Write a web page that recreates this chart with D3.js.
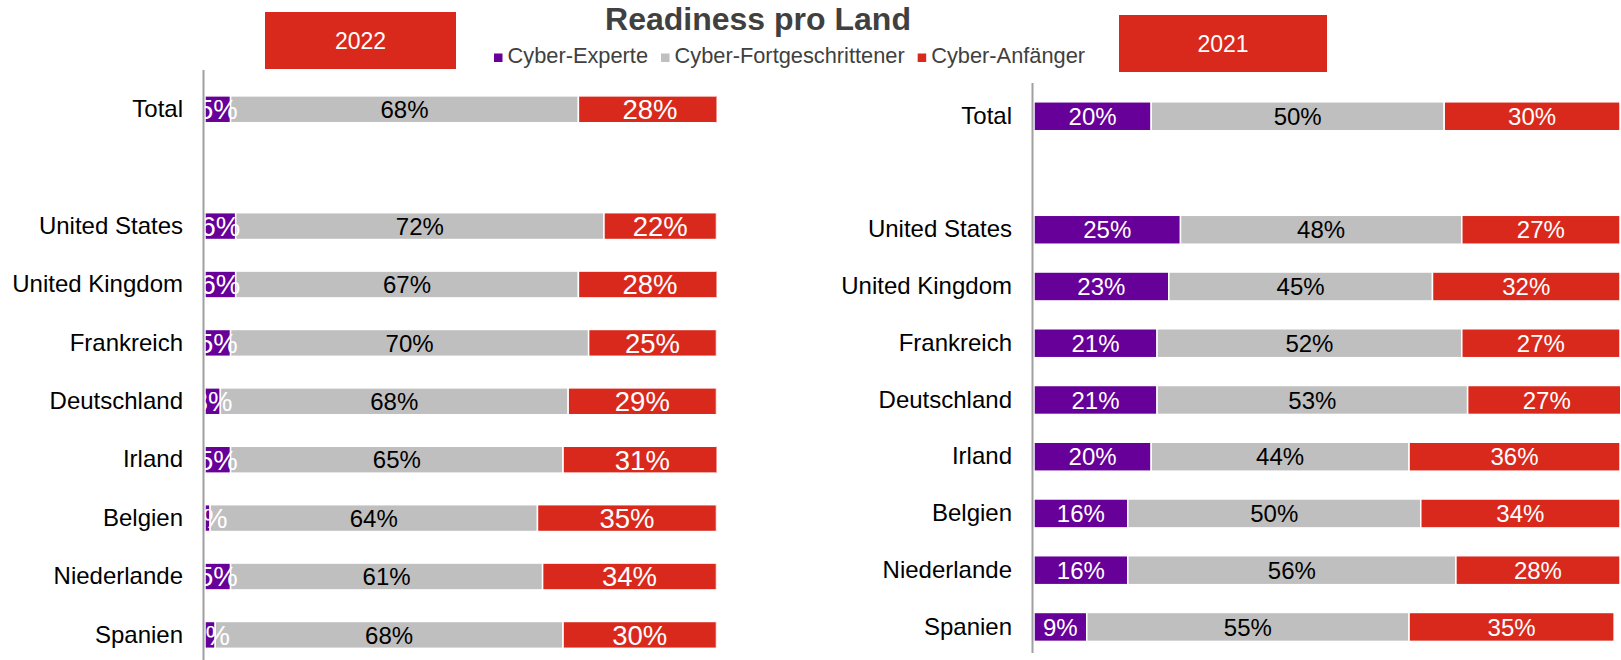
<!DOCTYPE html>
<html>
<head>
<meta charset="utf-8">
<script src="https://cdn.jsdelivr.net/npm/d3@7"></script>
<style>
    body { margin: 0; background: #fff; }
    svg { display: block; font-family: 'Liberation Sans', Arial, sans-serif; }
</style>
</head>
<body>
<div id="chart"></div>
<script>
'use strict';

// Data
const countries = ['Total', 'United States', 'United Kingdom', 'Frankreich', 'Deutschland',
    'Irland', 'Belgien', 'Niederlande', 'Spanien'];
const seriesNames = ['Cyber-Experte', 'Cyber-Fortgeschrittener', 'Cyber-Anfänger'];
const seriesColors = ['#660099', '#bfbfbf', '#d9291c'];

const expert2022 = [5, 6, 6, 5, 3, 5, 1, 5, 2];
const advanced2022 = [68, 72, 67, 70, 68, 65, 64, 61, 68];
const beginner2022 = [28, 22, 28, 25, 29, 31, 35, 34, 30];

const expert2021 = [20, 25, 23, 21, 21, 20, 16, 16, 9];
const advanced2021 = [50, 48, 45, 52, 53, 44, 50, 56, 55];
const beginner2021 = [30, 27, 32, 27, 27, 36, 34, 28, 35];

const years = ['2022', '2021'];

class Panel {

    constructor(_svg, _cfg) {
        this.svg = _svg;
        this.cfg = _cfg;
        this.initVis();
    }

    initVis() {
        // Get this vis
        const vis = this;
        const cfg = vis.cfg;

        // Rows, with an empty slot after Total
        vis.rows = [countries[0], ' ', ...countries.slice(1)];

        // Scales
        vis.y = d3.scaleBand()
            .domain(vis.rows)
            .range(cfg.yRange)
            .paddingInner(cfg.pad)
            .paddingOuter(cfg.pad / 2);
        vis.x = d3.scaleLinear()
            .domain([0, 100])
            .range(cfg.xRange);

        // Stack
        vis.table = countries.map((c, i) => ({
            country: c, expert: cfg.values[0][i], advanced: cfg.values[1][i], beginner: cfg.values[2][i]
        }));
        vis.series = d3.stack().keys(['expert', 'advanced', 'beginner'])(vis.table);

        // Clip to plot area
        vis.clipId = 'clip-' + cfg.id;
        vis.svg.append('defs')
            .append('clipPath')
            .attr('id', vis.clipId)
            .append('rect')
            .attr('x', cfg.xRange[0] - 1)
            .attr('y', 0)
            .attr('width', cfg.xRange[1] - cfg.xRange[0] + 1)
            .attr('height', 660);

        vis.g = vis.svg.append('g')
            .attr('class', 'panel')
            .attr('clip-path', `url(#${vis.clipId})`);

        // Bars
        vis.g.selectAll('.layer')
            .data(vis.series)
            .join('g')
            .attr('class', 'layer')
            .attr('fill', (d, i) => seriesColors[i])
            .selectAll('rect')
            .data(d => d)
            .join('rect')
            .attr('x', d => vis.x(d[0]))
            .attr('y', d => vis.y(d.data.country))
            .attr('width', d => vis.x(d[1]) - vis.x(d[0]))
            .attr('height', vis.y.bandwidth())
            .attr('stroke', '#fff')
            .attr('stroke-width', 1.5);

        // Value labels, on top of all bars
        vis.g.selectAll('.labels')
            .data(vis.series)
            .join('g')
            .attr('class', 'labels')
            .selectAll('text')
            .data((d, i) => d.map(v => ({v: v, s: i})))
            .join('text')
            .attr('x', d => vis.x((d.v[0] + d.v[1]) / 2))
            .attr('y', d => vis.y(d.v.data.country) + vis.y.bandwidth() / 2)
            .attr('dy', '0.36em')
            .attr('text-anchor', 'middle')
            .attr('font-size', d => cfg.labelSizes[d.s])
            .attr('fill', d => d.s === 1 ? '#000' : '#fff')
            .text(d => d3.format('.0f')(d.v[1] - d.v[0]) + '%');

        // Category axis
        vis.axisG = vis.svg.append('g')
            .attr('transform', `translate(${cfg.xRange[0] - 1},0)`)
            .call(d3.axisLeft(vis.y).tickSize(0).tickPadding(21));
        vis.axisG.select('.domain').remove();
        vis.axisG.selectAll('text')
            .attr('font-size', 24)
            .attr('font-family', "'Liberation Sans', Arial, sans-serif")
            .attr('fill', '#000');

        // Axis line
        vis.svg.append('line')
            .attr('x1', cfg.xRange[0] - 1.5)
            .attr('x2', cfg.xRange[0] - 1.5)
            .attr('y1', cfg.axisY[0])
            .attr('y2', cfg.axisY[1])
            .attr('stroke', '#a0a0a0')
            .attr('stroke-width', 2);

        // Year box
        vis.svg.append('rect')
            .attr('x', cfg.yearBox[0])
            .attr('y', cfg.yearBox[1])
            .attr('width', cfg.yearBox[2])
            .attr('height', cfg.yearBox[3])
            .attr('fill', seriesColors[2]);
        vis.svg.append('text')
            .attr('x', cfg.yearBox[0] + cfg.yearBox[2] / 2)
            .attr('y', cfg.yearBox[1] + cfg.yearBox[3] / 2)
            .attr('dy', '0.36em')
            .attr('text-anchor', 'middle')
            .attr('font-size', 23)
            .attr('fill', '#fff')
            .text(cfg.year);
    }
}

// Build svg
const svg = d3.select('#chart')
    .append('svg')
    .attr('width', 1621)
    .attr('height', 660);

new Panel(svg, {
    id: 'left', year: years[0],
    values: [expert2022, advanced2022, beginner2022],
    xRange: [205, 716.5], yRange: [80.1, 664.1], pad: 0.54,
    axisY: [70, 660], labelSizes: [27.5, 24, 27.5],
    yearBox: [265, 12, 191, 57]
});

new Panel(svg, {
    id: 'right', year: years[1],
    values: [expert2021, advanced2021, beginner2021],
    xRange: [1034, 1620], yRange: [87.9, 655.3], pad: 0.49,
    axisY: [83, 653], labelSizes: [24, 24, 24],
    yearBox: [1119, 15, 208, 57]
});

// Title
svg.append('text')
    .attr('x', 758)
    .attr('y', 29.5)
    .attr('text-anchor', 'middle')
    .attr('font-size', 32)
    .attr('font-weight', 'bold')
    .attr('fill', '#404040')
    .text('Readiness pro Land');

// Legend
const legendG = svg.append('g').attr('class', 'legend');
let lx = 494;
seriesNames.forEach((name, i) => {
    legendG.append('rect')
        .attr('x', lx)
        .attr('y', 53.5)
        .attr('width', 8.5)
        .attr('height', 8.5)
        .attr('fill', seriesColors[i]);
    const t = legendG.append('text')
        .attr('x', lx + 13.5)
        .attr('y', 63)
        .attr('font-size', 21.8)
        .attr('fill', '#404040')
        .text(name);
    lx += 13.5 + t.node().getComputedTextLength() + 13;
});
</script>
</body>
</html>
